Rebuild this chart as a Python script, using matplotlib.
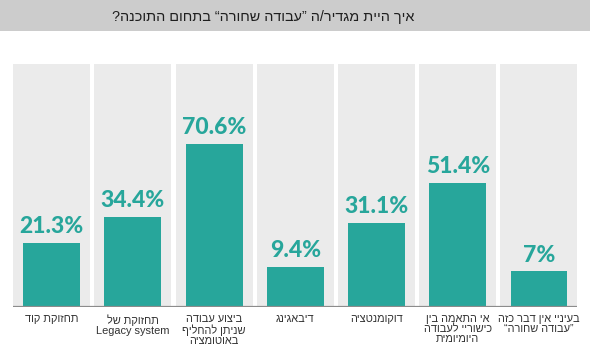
import matplotlib
matplotlib.use("Agg")
import matplotlib.pyplot as plt
import numpy as np

# data (Hebrew written in logical order, flipped for display below)
title = "איך היית מגדיר/ה ”עבודה שחורה“ בתחום התוכנה?"
categories = [
    "תחזוקת קוד",
    "תחזוקת של\nLegacy system",
    "ביצוע עבודה\nשניתן להחליף\nבאוטומציה",
    "דיבאגינג",
    "דוקומנטציה",
    "אי התאמה בין\nכישוריי לעבודה\nהיומיומית",
    "בעיניי אין דבר כזה\n”עבודה שחורה“",
]
values = [21.3, 34.4, 70.6, 9.4, 31.1, 51.4, 7]
value_labels = ["21.3%", "34.4%", "70.6%", "9.4%", "31.1%", "51.4%", "7%"]

TEAL = "#27a69b"
COLUMN = "#ebebeb"
BASE = -11  # bars in the source start a bit below zero
HEB = ["Liberation Sans Narrow", "Liberation Sans", "DejaVu Sans"]

def visual(line):
    #matplotlib has no bidi, so flip lines that contain hebrew
    if any("\u0590" <= ch <= "\u05ff" for ch in line):
        return line[::-1]
    return line

def rtl(text):
    return "\n".join(visual(l) for l in text.split("\n"))

fig = plt.figure(figsize=(5.9, 3.61), dpi=100)
fig.patch.set_facecolor("white")

# title band
band = fig.add_axes([0, 1 - 31 / 361, 1, 31 / 361])
band.set_facecolor("#cccccc")
band.set_xticks([])
band.set_yticks([])
for s in band.spines.values():
    s.set_visible(False)
band.text(263 / 590, 0.45, rtl(title), ha="center", va="center", fontsize=10.4,
          color="#1e1e1e", family=HEB, transform=band.transAxes)

ax = fig.add_axes([11.1 / 590, (361 - 307.3) / 361, 568.5 / 590, 243.3 / 361])
x = np.arange(len(values))
ax.set_xlim(-0.5, len(values) - 0.5)
ax.set_ylim(BASE, BASE + 243.3 / 2.0)

for i in x:
    ax.axvspan(i - 0.474, i + 0.474, color=COLUMN, lw=0, zorder=0)

ax.bar(x, np.array(values) - BASE, bottom=BASE, width=0.70, color=TEAL, zorder=2)
ax.hlines(BASE, -0.474, len(values) - 1 + 0.474, color="#8c8c8c", lw=1.6, zorder=3)

for i, v in enumerate(values):
    ax.annotate(value_labels[i], (i, v), xytext=(0, 7), textcoords="offset points",
                ha="center", va="baseline", fontsize=16.5, fontweight="black",
                color=TEAL, family="Lato")
    ax.annotate(rtl(categories[i]), (i, BASE), xytext=(0, -5), textcoords="offset points",
                ha="center", va="top", multialignment="center", fontsize=7.9,
                color="#333333", linespacing=1.0, family=HEB, annotation_clip=False)

ax.axis("off")

fig.savefig("out.png", dpi=100)
